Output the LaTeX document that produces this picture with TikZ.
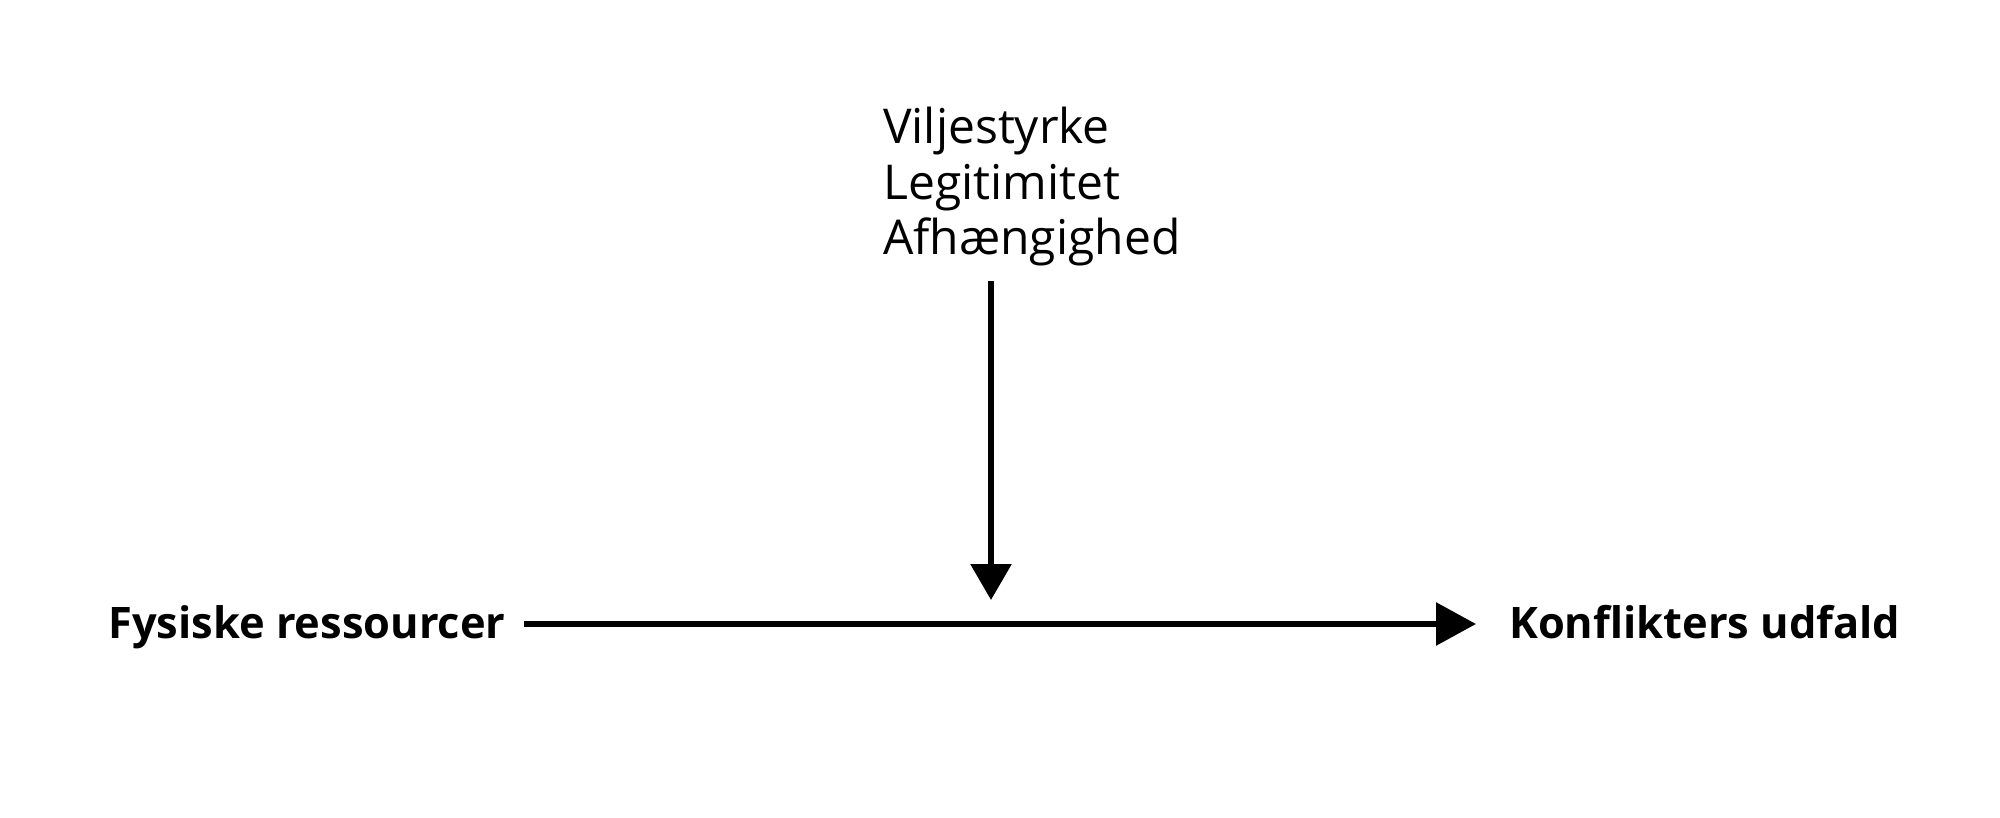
\documentclass[tikz,border=0pt]{standalone}
\usepackage{fontspec}
\setmainfont{Open Sans}
\usetikzlibrary{arrows.meta}
\begin{document}
\begin{tikzpicture}[x=1pt,y=-1pt,
  lbl/.style={inner sep=0pt,anchor=base west,font=\fontsize{48}{55}\selectfont},
  blbl/.style={lbl,font=\fontsize{43.4}{55}\selectfont\bfseries},
  conn/.style={line width=6pt,-{Triangle[length=40pt,width=42pt]}}]
\useasboundingbox (0,0) rectangle (2000,818);
\node[lbl] (v) at (883,144) {Viljestyrke};
\node[lbl] (l) at (883,200) {Legitimitet};
\node[lbl] (a) at (883,255) {Afhængighed};
\node[blbl] (f) at (108,638) {Fysiske ressourcer};
\node[blbl] (k) at (1509,638) {Konflikters udfald};
\coordinate (fs) at (524,624);
\coordinate (ke) at (1476,624);
\coordinate (as) at (991,281);
\coordinate (ae) at (991,600);
\draw[conn] (fs) -- (ke);
\draw[conn,-{Triangle[length=36pt,width=40pt]}] (as) -- (ae);
\end{tikzpicture}
\end{document}
